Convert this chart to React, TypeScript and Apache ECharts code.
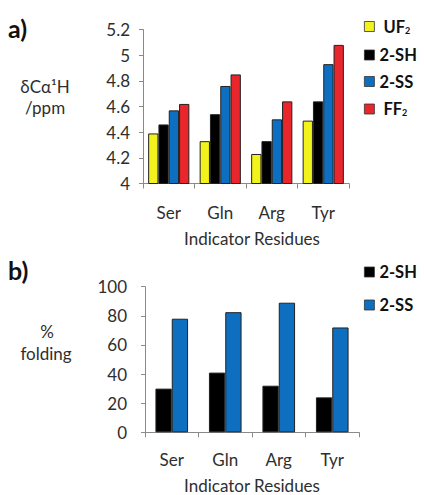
import React, { useEffect, useRef } from "react";
import * as echarts from "echarts";

const categories = ["Ser", "Gln", "Arg", "Tyr"];
const shiftUF2 = [4.39, 4.33, 4.23, 4.49];
const shift2SH = [4.46, 4.54, 4.33, 4.64];
const shift2SS = [4.57, 4.76, 4.5, 4.93];
const shiftFF2 = [4.62, 4.85, 4.64, 5.08];
const fold2SH = [30, 41, 32, 24];
const fold2SS = [78, 82.5, 89, 72];

const FONT = "Lato, 'Open Sans', sans-serif";
const TXT = "#2e2e2e";
const AXIS = "#8a8a8a";
const C_YEL = "#f2f21c";
const C_BLK = "#000000";
const C_BLU = "#0e6ec0";
const C_RED = "#e8262b";

export default function App() {
  const ref = useRef<HTMLDivElement>(null);
  useEffect(() => {
    if (!ref.current) return;
    const chart = echarts.init(ref.current, null, { renderer: "svg" });
    const legendText = {
      fontFamily: FONT,
      fontSize: 16.5,
      fontWeight: "bold",
      color: "#111",
      lineHeight: 16,
      rich: {
        t: { fontFamily: FONT, fontSize: 16.5, fontWeight: "bold", color: "#111", lineHeight: 16 },
        s: { fontFamily: FONT, fontSize: 9, fontWeight: "bold", color: "#111", padding: [7, 0, 0, 0], lineHeight: 9 },
      },
    };
    const fmt = (name: string) => {
      if (name === "UF2") return "{t| UF}{s|2}";
      if (name === "FF2") return "{t| FF}{s|2}";
      return name;
    };
    const mkLegend = (name: string, top: number) => ({
      data: [name],
      left: 364,
      top,
      padding: 0,
      itemWidth: 10,
      itemHeight: 10,
      itemGap: 4,
      icon: "rect",
      itemStyle: { borderColor: "#333", borderWidth: 0.8 },
      formatter: fmt,
      textStyle: legendText,
      selectedMode: false,
    });
    const xAxisBase = (gridIndex: number, margin: number) => ({
      type: "category",
      gridIndex,
      data: categories,
      axisLine: { lineStyle: { color: AXIS, width: 1 } },
      axisTick: { show: true, length: 5, lineStyle: { color: AXIS } },
      axisLabel: { fontFamily: FONT, fontSize: 17, color: TXT, margin },
    });
    const barStyle = (color: string) => ({ color, borderColor: "#222", borderWidth: 1 });
    chart.setOption({
      animation: false,
      backgroundColor: "#ffffff",
      textStyle: { fontFamily: FONT },
      legend: [
        mkLegend("UF2", 18),
        mkLegend("2-SH", 46.5),
        mkLegend("2-SS", 73),
        mkLegend("FF2", 100.5),
        mkLegend("2-SH", 263.5),
        mkLegend("2-SS", 296.5),
      ],
      grid: [
        { left: 143, top: 29.5, width: 206, height: 154 },
        { left: 145, top: 286.7, width: 214, height: 145.6 },
      ],
      xAxis: [xAxisBase(0, 20), xAxisBase(1, 19)],
      yAxis: [
        {
          type: "value",
          gridIndex: 0,
          min: 4,
          max: 5.2,
          interval: 0.2,
          splitLine: { show: false },
          axisLine: { show: true, lineStyle: { color: AXIS, width: 1 } },
          axisTick: { show: true, length: 4, lineStyle: { color: AXIS } },
          axisLabel: {
            fontFamily: FONT,
            fontSize: 17,
            color: TXT,
            margin: 13,
            formatter: (v: number) => String(Math.round(v * 10) / 10),
          },
        },
        {
          type: "value",
          gridIndex: 1,
          min: 0,
          max: 100,
          interval: 20,
          splitLine: { show: false },
          axisLine: { show: true, lineStyle: { color: AXIS, width: 1 } },
          axisTick: { show: true, length: 4, lineStyle: { color: AXIS } },
          axisLabel: { fontFamily: FONT, fontSize: 17, color: TXT, margin: 18 },
        },
      ],
      series: [
        { name: "UF2", type: "bar", xAxisIndex: 0, yAxisIndex: 0, data: shiftUF2, itemStyle: barStyle(C_YEL), barGap: "0%", barCategoryGap: "20%" },
        { name: "2-SH", type: "bar", xAxisIndex: 0, yAxisIndex: 0, data: shift2SH, itemStyle: barStyle(C_BLK), barGap: "0%", barCategoryGap: "20%" },
        { name: "2-SS", type: "bar", xAxisIndex: 0, yAxisIndex: 0, data: shift2SS, itemStyle: barStyle(C_BLU), barGap: "0%", barCategoryGap: "20%" },
        { name: "FF2", type: "bar", xAxisIndex: 0, yAxisIndex: 0, data: shiftFF2, itemStyle: barStyle(C_RED), barGap: "0%", barCategoryGap: "20%" },
        { name: "2-SH", type: "bar", xAxisIndex: 1, yAxisIndex: 1, data: fold2SH, itemStyle: barStyle(C_BLK), barGap: "0%", barCategoryGap: "39%" },
        { name: "2-SS", type: "bar", xAxisIndex: 1, yAxisIndex: 1, data: fold2SS, itemStyle: barStyle(C_BLU), barGap: "0%", barCategoryGap: "39%" },
      ],
      graphic: [
        { type: "text", x: 8, y: 28, style: { text: "a)", fontFamily: FONT, fontSize: 25, fontWeight: "bold", fill: "#111", textVerticalAlign: "middle" } },
        { type: "text", x: 8, y: 270, style: { text: "b)", fontFamily: FONT, fontSize: 25, fontWeight: "bold", fill: "#111", textVerticalAlign: "middle" } },
        { type: "text", x: 45, y: 86, style: { text: "δCα¹H", fontFamily: FONT, fontSize: 17, fill: TXT, textAlign: "center", textVerticalAlign: "middle" } },
        { type: "text", x: 45, y: 107, style: { text: "/ppm", fontFamily: FONT, fontSize: 17, fill: TXT, textAlign: "center", textVerticalAlign: "middle" } },
        { type: "text", x: 252, y: 238, style: { text: "Indicator Residues", fontFamily: FONT, fontSize: 17, fill: TXT, textAlign: "center", textVerticalAlign: "middle" } },
        { type: "text", x: 47, y: 331, style: { text: "%", fontFamily: FONT, fontSize: 17, fill: TXT, textAlign: "center", textVerticalAlign: "middle" } },
        { type: "text", x: 46, y: 353, style: { text: "folding", fontFamily: FONT, fontSize: 17, fill: TXT, textAlign: "center", textVerticalAlign: "middle" } },
        { type: "text", x: 252, y: 485, style: { text: "Indicator Residues", fontFamily: FONT, fontSize: 17, fill: TXT, textAlign: "center", textVerticalAlign: "middle" } },
      ],
    });
    return () => chart.dispose();
  }, []);
  return <div ref={ref} style={{ position: "absolute", left: 0, top: 0, width: 424, height: 495 }} />;
}
